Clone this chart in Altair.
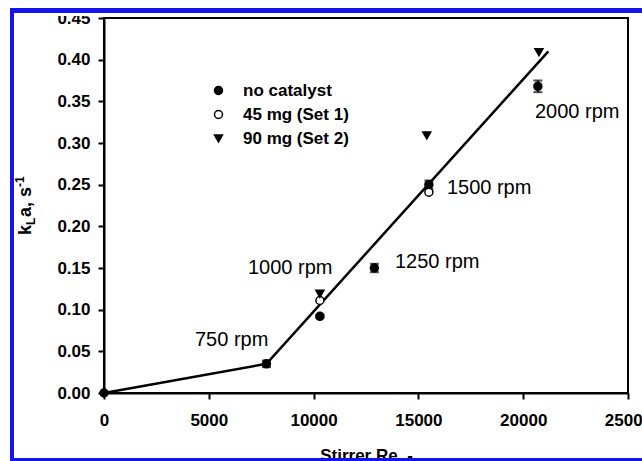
import altair as alt
import pandas as pd

# ---- data ----
series_names = ["no catalyst", "45 mg (Set 1)", "90 mg (Set 2)"]
nc_x = [0, 7750, 10300, 12900, 15500, 20700]
nc_y = [0.0, 0.035, 0.092, 0.150, 0.250, 0.368]
nc_err = [0.0, 0.004, 0.002, 0.005, 0.005, 0.007]
s1_x = [10300, 15500]
s1_y = [0.111, 0.241]
s2_x = [10300, 15400, 20750]
s2_y = [0.119, 0.309, 0.409]
fit_x = [0, 7750, 21200]
fit_y = [0.0, 0.035, 0.41]
ann_label = ["750 rpm", "1000 rpm", "1250 rpm", "1500 rpm", "2000 rpm"]
ann_x = [4340, 6870, 13880, 16360, 20560]
ann_y = [0.0636, 0.150, 0.157, 0.246, 0.337]
x_ticks = [0, 5000, 10000, 15000, 20000, 25000]
y_ticks = [0.00, 0.05, 0.10, 0.15, 0.20, 0.25, 0.30, 0.35, 0.40, 0.45]
x_title = "Stirrer Re, -"
y_title_parts = ["k", "L", "a, s", "-1"]

FONT = "Liberation Sans"
W, H = 524, 375

xs = alt.Scale(domain=[0, 25000], nice=False, zero=False)
ys = alt.Scale(domain=[0, 0.45], nice=False, zero=False)

x_axis = alt.Axis(values=x_ticks, format="d", title=x_title, grid=False,
                  labelFont=FONT, labelFontSize=17, labelFontWeight="bold", labelColor="black",
                  labelPadding=13, labelFlush=False, labelOverlap=False,
                  tickSize=6, tickWidth=2, tickColor="black",
                  domainColor="black", domainWidth=2,
                  titleFont=FONT, titleFontSize=17, titleFontWeight="bold", titleColor="black",
                  titlePadding=19)
y_axis = alt.Axis(values=y_ticks, format=".2f", title=None, grid=False,
                  labelFont=FONT, labelFontSize=17, labelFontWeight="bold", labelColor="black",
                  labelPadding=8, labelFlush=False, labelOverlap=False,
                  tickSize=6, tickWidth=2, tickColor="black",
                  domainColor="black", domainWidth=2)

fit_df = pd.DataFrame({"x": fit_x, "y": fit_y})
fit = alt.Chart(fit_df).mark_line(color="black", strokeWidth=2.5).encode(
    x=alt.X("x:Q", scale=xs, axis=x_axis),
    y=alt.Y("y:Q", scale=ys, axis=y_axis),
)

err_df = pd.DataFrame({"x": nc_x, "lo": [a - b for a, b in zip(nc_y, nc_err)],
                       "hi": [a + b for a, b in zip(nc_y, nc_err)]})
err_rule = alt.Chart(err_df).mark_rule(color="black", strokeWidth=1.5).encode(
    x=alt.X("x:Q", scale=xs), y=alt.Y("lo:Q", scale=ys), y2="hi:Q")
caps_df = pd.DataFrame({"x": nc_x + nc_x, "y": err_df["lo"].tolist() + err_df["hi"].tolist()})
caps = alt.Chart(caps_df).mark_tick(color="black", orient="horizontal", size=9, thickness=2).encode(
    x=alt.X("x:Q", scale=xs), y=alt.Y("y:Q", scale=ys))

pts_df = pd.DataFrame({
    "x": nc_x + s1_x + s2_x,
    "y": nc_y + s1_y + s2_y,
    "series": [series_names[0]] * len(nc_x) + [series_names[1]] * len(s1_x) + [series_names[2]] * len(s2_x),
})
legend = alt.Legend(title=None, orient="none", legendX=106, legendY=64, padding=0,
                    labelFont=FONT, labelFontSize=17, labelFontWeight="bold", labelColor="black",
                    labelOffset=16, rowPadding=6, symbolStrokeWidth=1.5)
points = alt.Chart(pts_df).mark_point(filled=True, strokeWidth=1.5, opacity=1).encode(
    x=alt.X("x:Q", scale=xs),
    y=alt.Y("y:Q", scale=ys),
    shape=alt.Shape("series:N", scale=alt.Scale(domain=series_names, range=["circle", "circle", "triangle-down"]), legend=legend),
    fill=alt.Fill("series:N", scale=alt.Scale(domain=series_names, range=["black", "white", "black"]), legend=legend),
    stroke=alt.Stroke("series:N", scale=alt.Scale(domain=series_names, range=["black", "black", "black"]), legend=legend),
    size=alt.Size("series:N", scale=alt.Scale(domain=series_names, range=[64, 64, 100]), legend=legend),
)

ann_df = pd.DataFrame({"label": ann_label, "x": ann_x, "y": ann_y})
ann = alt.Chart(ann_df).mark_text(font=FONT, fontSize=20, align="left", baseline="middle", color="black").encode(
    x=alt.X("x:Q", scale=xs), y=alt.Y("y:Q", scale=ys), text="label:N")

one = pd.DataFrame({"a": [0]})

# y title built from pieces (subscript / superscript)
yt_pos = [(-73, 217, 18), (-69, 207, 12), (-73, 199, 18), (-80, 169, 12)]
ytitle = []
for txt, (px, py, fs) in zip(y_title_parts, yt_pos):
    ytitle.append(alt.Chart(one).mark_text(font=FONT, fontSize=fs, fontWeight="bold", angle=270,
                                            align="left", baseline="alphabetic", color="black", text=txt)
                  .encode(x=alt.value(px), y=alt.value(py)))

def box(x1, x2, y1, y2, color):
    return alt.Chart(one).mark_rect(color=color, opacity=1).encode(
        x=alt.value(x1), x2=alt.value(x2), y=alt.value(y1), y2=alt.value(y2))

BLUE = "#1414f0"
cover = box(-104, 538, -18, -2, "white")
top_band = box(-94, 538, -10, -5, BLUE)
left_band = box(-94, -90, -10, 443, BLUE)
bottom_band = box(-94, 538, 440, 443, BLUE)

chart = alt.layer(fit, err_rule, caps, points, ann, *ytitle, cover, top_band, left_band, bottom_band).properties(
    width=W, height=H,
    padding={"left": 104, "top": 18, "right": 14, "bottom": 68},
    autosize=alt.AutoSizeParams(type="none"),
    background="white",
).configure_view(stroke="black", strokeWidth=2)

chart.save("out.html", embed_options={"renderer": "svg", "actions": False})
